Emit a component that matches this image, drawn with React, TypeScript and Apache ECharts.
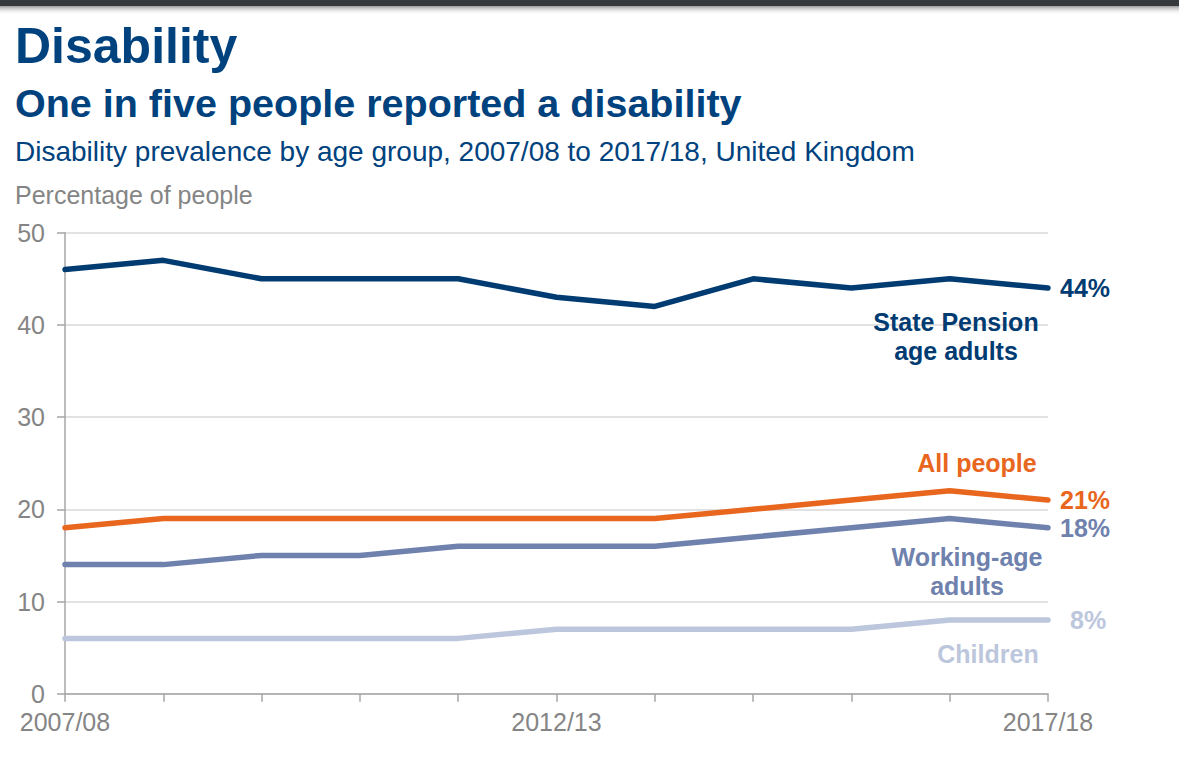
import React, { useEffect, useRef } from "react";
import * as echarts from "echarts";

const categories = ["2007/08", "2008/09", "2009/10", "2010/11", "2011/12", "2012/13", "2013/14", "2014/15", "2015/16", "2016/17", "2017/18"];
const statePension = [46, 47, 45, 45, 45, 43, 42, 45, 44, 45, 44];
const allPeople = [18, 19, 19, 19, 19, 19, 19, 20, 21, 22, 21];
const workingAge = [14, 14, 15, 15, 16, 16, 16, 17, 18, 19, 18];
const children = [6, 6, 6, 6, 6, 7, 7, 7, 7, 8, 8];
const yTicks = [0, 10, 20, 30, 40, 50];

const FONT = "'Liberation Sans', Arial, sans-serif";
const C_SP = "#003b72";
const C_ALL = "#e8661d";
const C_WORK = "#6f81ad";
const C_CHILD = "#bcc6dc";
const C_TITLE = "#00427e";
const C_GRAY = "#858585";

export default function App() {
  const ref = useRef<HTMLDivElement>(null);
  useEffect(() => {
    if (!ref.current) return;
    const chart = echarts.init(ref.current, undefined, { renderer: "svg" });
    const mk = (name: string, data: number[], color: string, dist: number) => ({
      name,
      type: "line",
      data,
      symbol: "none",
      lineStyle: { color, width: 5.5, cap: "round" },
      itemStyle: { color },
      endLabel: {
        show: true,
        formatter: (p: any) => p.value + "%",
        color,
        fontFamily: FONT,
        fontSize: 25,
        fontWeight: "bold",
        distance: dist,
      },
    });
    const lbl = (text: string, x: number, y: number, color: string) => ({
      type: "text",
      x,
      y,
      z: 100,
      style: { text, fill: color, font: `bold 25px ${FONT}`, align: "center", verticalAlign: "middle" },
    });
    chart.setOption({
      animation: false,
      grid: { left: 65, right: 131, top: 232.7, bottom: 76.3 },
      xAxis: {
        type: "category",
        data: categories,
        boundaryGap: false,
        axisLine: { lineStyle: { color: "#a6a6a6", width: 1.5 } },
        axisTick: { show: true, interval: 0, length: 8, lineStyle: { color: "#a6a6a6", width: 1.5 } },
        axisLabel: {
          interval: 4,
          color: C_GRAY,
          fontFamily: FONT,
          fontSize: 25,
          margin: 16,
          showMaxLabel: true,
          showMinLabel: true,
        },
        splitLine: { show: false },
      },
      yAxis: {
        type: "value",
        min: yTicks[0],
        max: yTicks[yTicks.length - 1],
        interval: 10,
        axisLine: { show: true, lineStyle: { color: "#a6a6a6", width: 1.5 } },
        axisTick: { show: true, length: 8, lineStyle: { color: "#a6a6a6", width: 1.5 } },
        axisLabel: { color: C_GRAY, fontFamily: FONT, fontSize: 25, margin: 20 },
        splitLine: { lineStyle: { color: "#d9d9d9", width: 1.5 } },
      },
      series: [
        mk("Children", children, C_CHILD, 22),
        mk("Working-age adults", workingAge, C_WORK, 12),
        mk("All people", allPeople, C_ALL, 12),
        mk("State Pension age adults", statePension, C_SP, 12),
      ],
      graphic: [
        { type: "rect", shape: { x: 0, y: 0, width: 1179, height: 6 }, style: { fill: "#35393c" }, silent: true },
        {
          type: "rect",
          shape: { x: 0, y: 6, width: 1179, height: 9 },
          style: {
            fill: new echarts.graphic.LinearGradient(0, 0, 0, 1, [
              { offset: 0, color: "#9a9a9a" },
              { offset: 1, color: "rgba(255,255,255,0)" },
            ]),
          },
          silent: true,
        },
        { type: "text", x: 15, y: 46, style: { text: "Disability", fill: C_TITLE, font: `bold 50px ${FONT}`, verticalAlign: "middle" } },
        { type: "text", x: 15, y: 103, style: { text: "One in five people reported a disability", fill: C_TITLE, font: `bold 39.5px ${FONT}`, verticalAlign: "middle" } },
        { type: "text", x: 15, y: 151, style: { text: "Disability prevalence by age group, 2007/08 to 2017/18, United Kingdom", fill: C_TITLE, font: `28px ${FONT}`, verticalAlign: "middle" } },
        { type: "text", x: 15, y: 195, style: { text: "Percentage of people", fill: C_GRAY, font: `25px ${FONT}`, verticalAlign: "middle" } },
        lbl("State Pension", 956, 322, C_SP),
        lbl("age adults", 956, 351, C_SP),
        lbl("All people", 977, 463, C_ALL),
        lbl("Working-age", 967, 557, C_WORK),
        lbl("adults", 967, 586, C_WORK),
        lbl("Children", 988, 654, C_CHILD),
      ],
    });
    return () => chart.dispose();
  }, []);
  return <div ref={ref} style={{ position: "fixed", left: 0, top: 0, width: 1179, height: 770, background: "#fff" }} />;
}
